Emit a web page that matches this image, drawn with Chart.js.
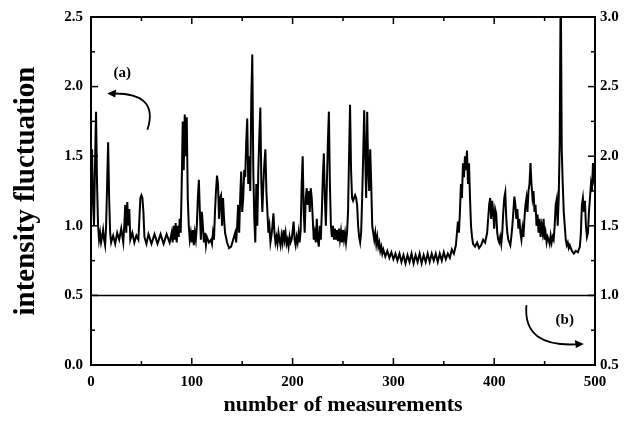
<!DOCTYPE html>
<html>
<head>
<meta charset="utf-8">
<script src="https://cdn.jsdelivr.net/npm/chart.js@4.4.1/dist/chart.umd.min.js"></script>
<style>
  html, body { margin: 0; padding: 0; background: #fff; }
  #wrap { width: 635px; height: 423px; }
</style>
</head>
<body>
<div id="wrap"><canvas id="myChart" width="635" height="423"></canvas></div>
<script>
const measX = [
  0,1,2,3,4,5,6,7,8,9,10,11,12,13,14,15,16,17,18,19,20,
  22,24,26,28,30,32,33,34,35,36,37,38,39,41,43,45,47,48,49,50,51,52,53,55,
  57,60,63,66,69,72,75,78,80,81,82,83,84,85,86,87,88,89,90,91,92,93,94,95,96,97,98,99,100,
  101,102,103,104,105,106,107,108,109,110,111,112,113,114,115,117,119,120,121,122,123,124,125,126,127,128,129,130,131,132,133,135,137,139,141,143,144,145,146,147,148,149,150,
  151,152,153,154,155,156,157,158,159,160,161,162,163,164,165,166,167,168,169,170,171,172,173,174,175,176,177,178,
  179,180,181,182,183,184,185,186,187,188,189,190,191,192,193,194,195,196,197,198,199,200,
  201,202,203,204,205,206,207,208,209,210,211,212,213,214,215,216,217,218,219,220,221,222,223,224,225,226,227,228,229,230,
  231,232,233,234,235,236,237,238,239,240,241,242,243,244,245,246,247,248,249,250,
  251,252,253,254,255,256,257,258,259,260,261,262,263,264,265,266,267,268,269,270,
  271,272,273,274,275,276,277,278,279,280,281,282,283,284,285,286,287,288,289,
  290,292,294,296,298,300,302,304,306,308,310,312,314,316,318,320,322,324,326,328,330,
  332,334,336,338,340,342,344,346,348,350,352,354,356,358,360,362,364,365,366,367,368,369,370,
  371,372,373,374,375,376,377,378,379,381,383,385,387,389,391,393,394,395,396,397,398,399,400,
  401,402,403,404,405,406,407,408,409,410,411,412,413,414,415,416,417,418,419,420,
  421,422,423,424,425,426,427,428,429,430,431,432,433,434,435,436,437,438,439,440,
  441,442,443,444,445,446,447,448,449,450,451,452,453,454,455,456,457,458,459,460,
  461,462,463,464,465,466,467,468,469,470,471,472,473,474,475,477,479,481,483,485,486,487,488,489,490,
  491,492,493,494,495,496,497,498,499,500
];
const intensity = [
  1.05,1.55,1.2,1.0,1.45,1.82,1.3,1.0,0.9,0.95,0.88,0.92,0.97,0.9,0.86,1.0,1.3,1.6,1.2,0.95,0.88,
  0.93,0.87,0.95,0.9,0.98,0.88,1.0,1.15,0.95,1.17,1.0,1.12,0.9,0.95,0.88,0.93,0.9,1.05,1.2,1.22,1.2,1.1,0.92,0.87,
  0.94,0.87,0.94,0.87,0.94,0.87,0.94,0.88,0.95,0.88,1.0,0.9,1.02,0.88,1.0,0.92,1.05,0.95,1.3,1.75,1.4,1.8,1.5,1.78,1.2,1.0,0.9,0.95,0.88,
  0.97,0.86,0.95,0.9,1.0,1.2,1.33,1.1,0.9,1.1,1.0,0.88,0.95,0.86,0.92,0.88,0.9,0.87,0.95,0.9,1.1,1.25,1.36,1.3,1.05,1.2,1.22,1.0,1.2,1.05,0.95,0.88,0.84,0.85,0.9,0.95,0.88,1.0,1.15,0.95,1.2,1.39,1.1,
  1.2,1.4,1.35,1.6,1.77,1.3,1.5,1.25,1.9,2.23,1.4,1.05,0.88,1.3,1.0,1.4,1.65,1.85,1.3,1.1,1.3,1.45,1.55,1.25,1.1,0.95,1.0,0.88,
  0.93,1.0,1.09,0.95,0.88,0.92,0.87,0.95,0.9,0.86,0.93,0.88,0.97,0.9,0.95,0.87,0.9,0.85,0.92,0.88,0.9,0.96,
  1.03,0.9,0.86,0.92,0.88,0.95,0.88,0.97,1.3,1.5,1.1,0.95,1.2,1.27,1.15,1.25,1.1,1.27,1.2,1.05,0.9,0.95,0.88,1.05,0.9,0.85,1.0,0.9,1.1,1.35,
  1.52,1.2,1.0,1.3,1.6,1.82,1.3,1.0,0.92,1.0,0.9,0.98,0.9,0.97,0.89,0.98,0.9,0.96,0.88,0.97,
  0.9,0.95,0.88,0.95,1.1,1.5,1.87,1.4,1.2,1.18,1.2,1.22,1.2,1.15,1.0,0.92,0.88,0.95,1.2,1.5,
  1.83,1.5,1.2,1.82,1.4,1.25,1.55,1.3,1.0,0.95,0.9,0.95,0.87,0.92,0.85,0.88,0.82,0.85,0.8,
  0.83,0.78,0.82,0.77,0.81,0.76,0.8,0.75,0.8,0.74,0.79,0.73,0.79,0.74,0.8,0.73,0.79,0.74,0.8,0.73,0.79,
  0.74,0.8,0.74,0.8,0.75,0.8,0.74,0.8,0.75,0.81,0.76,0.8,0.77,0.83,0.8,0.86,1.03,0.95,1.1,1.3,1.2,1.45,1.35,
  1.5,1.4,1.54,1.3,1.45,1.2,1.0,0.92,0.87,0.85,0.88,0.84,0.86,0.9,0.88,0.95,1.05,1.15,1.2,1.05,1.18,1.1,0.98,
  1.12,1.09,0.95,0.9,0.88,0.92,0.87,0.95,1.1,1.2,1.24,1.05,0.95,0.9,0.88,0.86,0.92,1.0,1.1,1.21,
  1.15,1.05,1.12,0.98,1.05,0.95,0.9,0.98,0.92,1.05,1.15,1.2,1.1,1.25,1.3,1.45,1.3,1.2,1.25,1.1,
  1.15,1.0,1.08,0.95,1.05,0.92,1.0,0.95,1.05,0.9,0.95,0.88,0.92,0.9,0.87,0.93,0.88,0.92,0.9,1.0,
  1.15,1.19,1.0,1.2,1.6,2.8,1.55,1.3,1.1,1.0,0.9,0.86,0.88,0.84,0.86,0.82,0.8,0.82,0.81,0.85,0.95,1.15,1.2,1.1,1.18,
  1.0,0.92,0.95,1.1,1.2,1.3,1.25,1.45,1.35,1.4
];
// curve b, right-hand axis
const refX = [0, 500];
const refY = [1.0, 1.0];

const xTicks = [0, 100, 200, 300, 400, 500];
const xMinor = [50, 150, 250, 350, 450];
const leftTicks = [0, 0.5, 1.0, 1.5, 2.0, 2.5];
const leftMinor = [0.25, 0.75, 1.25, 1.75, 2.25];
const rightTicks = [0.5, 1.0, 1.5, 2.0, 2.5, 3.0];
const rightMinor = [0.75, 1.25, 1.75, 2.25, 2.75];

const serif = "'Liberation Serif', 'DejaVu Serif', serif";

// frame, inward ticks and the (a)/(b) labels with arrows
const framePlugin = {
  id: 'frame',
  afterDraw(chart) {
    const ctx = chart.ctx;
    const a = chart.chartArea;
    const sx = chart.scales.x, sy = chart.scales.y, sy1 = chart.scales.y1;
    ctx.save();
    ctx.strokeStyle = '#000';
    ctx.lineWidth = 2;
    ctx.strokeRect(a.left, a.top, a.right - a.left, a.bottom - a.top);

    ctx.lineWidth = 1.5;
    const tick = (x1, y1, x2, y2) => { ctx.beginPath(); ctx.moveTo(x1, y1); ctx.lineTo(x2, y2); ctx.stroke(); };
    xTicks.forEach(v => { const p = sx.getPixelForValue(v); tick(p, a.bottom, p, a.bottom - 7); tick(p, a.top, p, a.top + 7); });
    xMinor.forEach(v => { const p = sx.getPixelForValue(v); tick(p, a.bottom, p, a.bottom - 4); tick(p, a.top, p, a.top + 4); });
    leftTicks.forEach(v => { const p = sy.getPixelForValue(v); tick(a.left, p, a.left + 7, p); });
    leftMinor.forEach(v => { const p = sy.getPixelForValue(v); tick(a.left, p, a.left + 4, p); });
    rightTicks.forEach(v => { const p = sy1.getPixelForValue(v); tick(a.right, p, a.right - 7, p); });
    rightMinor.forEach(v => { const p = sy1.getPixelForValue(v); tick(a.right, p, a.right - 4, p); });

    ctx.fillStyle = '#000';
    ctx.font = 'bold 15px ' + serif;
    ctx.textAlign = 'center';
    ctx.textBaseline = 'middle';
    ctx.fillText('(a)', sx.getPixelForValue(31), sy.getPixelForValue(2.1));
    ctx.fillText('(b)', sx.getPixelForValue(470), sy.getPixelForValue(0.32));

    // arrow (a): curls up and points left, to the left axis
    ctx.lineWidth = 1.8;
    let x0 = sx.getPixelForValue(56), y0 = sy.getPixelForValue(1.69);
    let xe = sx.getPixelForValue(20), ye = sy.getPixelForValue(1.95);
    ctx.beginPath();
    ctx.moveTo(x0, y0);
    ctx.quadraticCurveTo(sx.getPixelForValue(68), sy.getPixelForValue(1.96), xe, ye);
    ctx.stroke();
    ctx.beginPath();
    ctx.moveTo(xe - 4, ye);
    ctx.lineTo(xe + 5, ye - 4);
    ctx.lineTo(xe + 4, ye + 4);
    ctx.closePath();
    ctx.fill();

    // arrow (b): curls down and points right, to the right axis
    x0 = sx.getPixelForValue(432); y0 = sy.getPixelForValue(0.43);
    xe = sx.getPixelForValue(485); ye = sy.getPixelForValue(0.15);
    ctx.beginPath();
    ctx.moveTo(x0, y0);
    ctx.quadraticCurveTo(sx.getPixelForValue(428), sy.getPixelForValue(0.12), xe, ye);
    ctx.stroke();
    ctx.beginPath();
    ctx.moveTo(xe + 4, ye);
    ctx.lineTo(xe - 5, ye - 4);
    ctx.lineTo(xe - 4, ye + 4);
    ctx.closePath();
    ctx.fill();
    ctx.restore();
  }
};

const config = {
  type: 'line',
  data: {
    datasets: [
      {
        label: 'a',
        data: measX.map((x, i) => ({ x: x, y: intensity[i] })),
        yAxisID: 'y',
        borderColor: '#000',
        borderWidth: 2,
        pointRadius: 0,
        tension: 0
      },
      {
        label: 'b',
        data: refX.map((x, i) => ({ x: x, y: refY[i] })),
        yAxisID: 'y1',
        borderColor: '#000',
        borderWidth: 1.5,
        pointRadius: 0,
        tension: 0
      }
    ]
  },
  options: {
    responsive: false,
    animation: false,
    events: [],
    layout: { padding: { left: 5, top: 17, right: 0, bottom: 0 } },
    plugins: { legend: { display: false }, tooltip: { enabled: false } },
    scales: {
      x: {
        type: 'linear',
        min: 0, max: 500,
        grid: { display: false, drawTicks: false },
        border: { display: false },
        ticks: { stepSize: 100, padding: 8, color: '#000', font: { family: serif, size: 15, weight: 'bold' } },
        title: { display: true, text: 'number of measurements', color: '#000', font: { family: serif, size: 22, weight: 'bold' } },
        afterFit(s) { s.height = 58; }
      },
      y: {
        position: 'left',
        min: 0, max: 2.5,
        grid: { display: false, drawTicks: false },
        border: { display: false },
        ticks: { stepSize: 0.5, padding: 8, color: '#000', callback: v => v.toFixed(1), font: { family: serif, size: 15, weight: 'bold' } },
        title: { display: true, text: 'intensity fluctuation', color: '#000', font: { family: serif, size: 29, weight: 'bold' } },
        afterFit(s) { s.width = 86; }
      },
      y1: {
        position: 'right',
        min: 0.5, max: 3.0,
        grid: { display: false, drawTicks: false },
        border: { display: false },
        ticks: { stepSize: 0.5, padding: 5, color: '#000', callback: v => v.toFixed(1), font: { family: serif, size: 15, weight: 'bold' } },
        afterFit(s) { s.width = 40; }
      }
    }
  },
  plugins: [framePlugin]
};

const myChart = new Chart(document.getElementById('myChart'), config);
</script>
</body>
</html>
